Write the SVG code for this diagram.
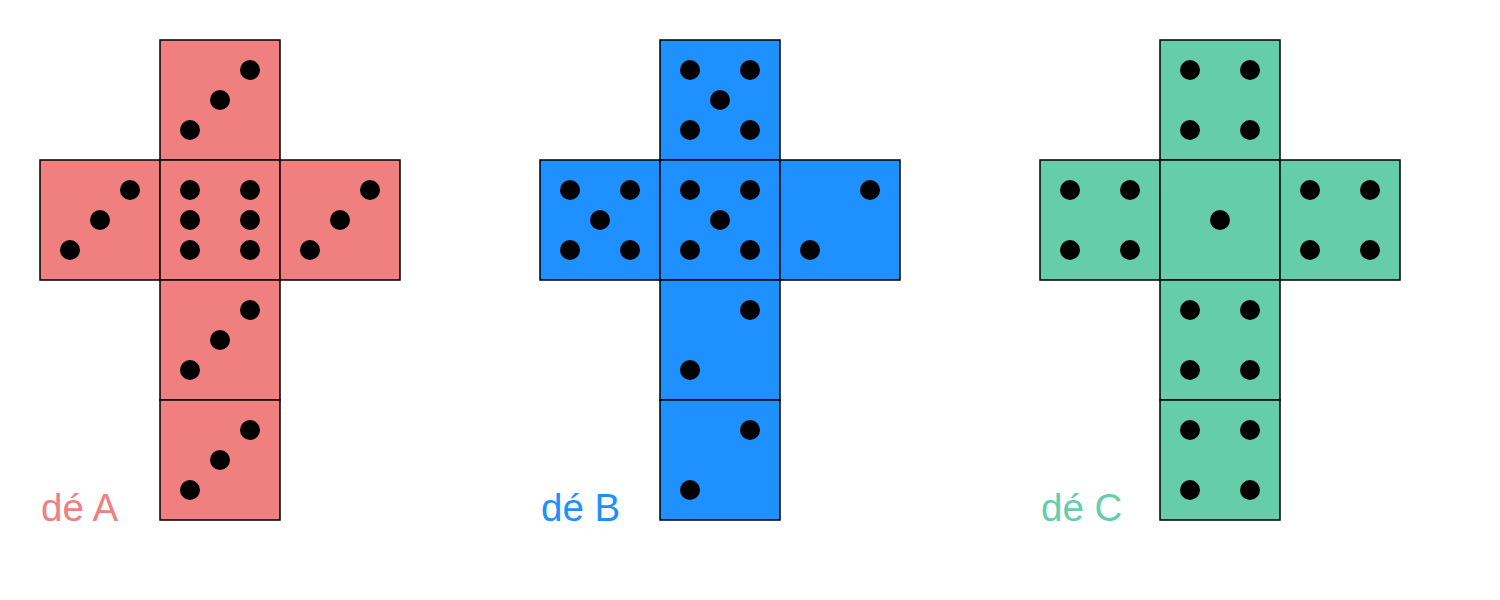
<svg xmlns="http://www.w3.org/2000/svg" width="1500" height="600" viewBox="0 0 1500 600">
<style>
.f{stroke:#000;stroke-width:1.5}
.a{fill:#F08080}.b{fill:#1E90FF}.c{fill:#66CDAA}
.d{fill:#000}
.lbl{font-family:"Liberation Sans",Arial,sans-serif;font-size:38.5px}
</style>
<rect width="1500" height="600" fill="#fff"/>
<g id="dieA">
<rect class="f a" x="160" y="40" width="120" height="120"/>
<rect class="f a" x="40" y="160" width="120" height="120"/>
<rect class="f a" x="160" y="160" width="120" height="120"/>
<rect class="f a" x="280" y="160" width="120" height="120"/>
<rect class="f a" x="160" y="280" width="120" height="120"/>
<rect class="f a" x="160" y="400" width="120" height="120"/>
<g class="d">
<circle cx="250" cy="70" r="10"/><circle cx="220" cy="100" r="10"/><circle cx="190" cy="130" r="10"/>
<circle cx="130" cy="190" r="10"/><circle cx="100" cy="220" r="10"/><circle cx="70" cy="250" r="10"/>
<circle cx="190" cy="190" r="10"/><circle cx="250" cy="190" r="10"/><circle cx="190" cy="220" r="10"/><circle cx="250" cy="220" r="10"/><circle cx="190" cy="250" r="10"/><circle cx="250" cy="250" r="10"/>
<circle cx="370" cy="190" r="10"/><circle cx="340" cy="220" r="10"/><circle cx="310" cy="250" r="10"/>
<circle cx="250" cy="310" r="10"/><circle cx="220" cy="340" r="10"/><circle cx="190" cy="370" r="10"/>
<circle cx="250" cy="430" r="10"/><circle cx="220" cy="460" r="10"/><circle cx="190" cy="490" r="10"/>
</g>
<text class="lbl" x="41" y="521" fill="#F08080">dé A</text>
</g>
<g id="dieB">
<rect class="f b" x="660" y="40" width="120" height="120"/>
<rect class="f b" x="540" y="160" width="120" height="120"/>
<rect class="f b" x="660" y="160" width="120" height="120"/>
<rect class="f b" x="780" y="160" width="120" height="120"/>
<rect class="f b" x="660" y="280" width="120" height="120"/>
<rect class="f b" x="660" y="400" width="120" height="120"/>
<g class="d">
<circle cx="690" cy="70" r="10"/><circle cx="750" cy="70" r="10"/><circle cx="720" cy="100" r="10"/><circle cx="690" cy="130" r="10"/><circle cx="750" cy="130" r="10"/>
<circle cx="570" cy="190" r="10"/><circle cx="630" cy="190" r="10"/><circle cx="600" cy="220" r="10"/><circle cx="570" cy="250" r="10"/><circle cx="630" cy="250" r="10"/>
<circle cx="690" cy="190" r="10"/><circle cx="750" cy="190" r="10"/><circle cx="720" cy="220" r="10"/><circle cx="690" cy="250" r="10"/><circle cx="750" cy="250" r="10"/>
<circle cx="870" cy="190" r="10"/><circle cx="810" cy="250" r="10"/>
<circle cx="750" cy="310" r="10"/><circle cx="690" cy="370" r="10"/>
<circle cx="750" cy="430" r="10"/><circle cx="690" cy="490" r="10"/>
</g>
<text class="lbl" x="541" y="521" fill="#1E90FF">dé B</text>
</g>
<g id="dieC">
<rect class="f c" x="1160" y="40" width="120" height="120"/>
<rect class="f c" x="1040" y="160" width="120" height="120"/>
<rect class="f c" x="1160" y="160" width="120" height="120"/>
<rect class="f c" x="1280" y="160" width="120" height="120"/>
<rect class="f c" x="1160" y="280" width="120" height="120"/>
<rect class="f c" x="1160" y="400" width="120" height="120"/>
<g class="d">
<circle cx="1190" cy="70" r="10"/><circle cx="1250" cy="70" r="10"/><circle cx="1190" cy="130" r="10"/><circle cx="1250" cy="130" r="10"/>
<circle cx="1070" cy="190" r="10"/><circle cx="1130" cy="190" r="10"/><circle cx="1070" cy="250" r="10"/><circle cx="1130" cy="250" r="10"/>
<circle cx="1220" cy="220" r="10"/>
<circle cx="1310" cy="190" r="10"/><circle cx="1370" cy="190" r="10"/><circle cx="1310" cy="250" r="10"/><circle cx="1370" cy="250" r="10"/>
<circle cx="1190" cy="310" r="10"/><circle cx="1250" cy="310" r="10"/><circle cx="1190" cy="370" r="10"/><circle cx="1250" cy="370" r="10"/>
<circle cx="1190" cy="430" r="10"/><circle cx="1250" cy="430" r="10"/><circle cx="1190" cy="490" r="10"/><circle cx="1250" cy="490" r="10"/>
</g>
<text class="lbl" x="1041" y="521" fill="#66CDAA">dé C</text>
</g>
</svg>
